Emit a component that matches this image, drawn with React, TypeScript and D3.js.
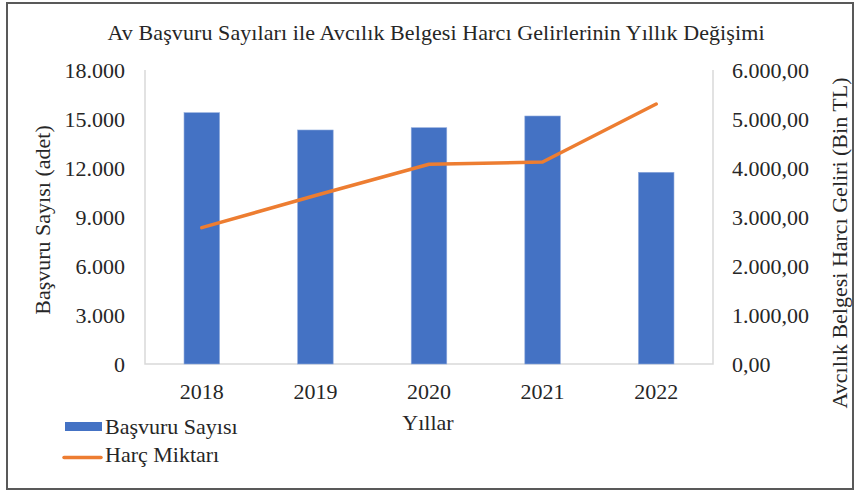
import * as d3 from "d3";
import React, { useEffect, useRef } from "react";

const years = ["2018", "2019", "2020", "2021", "2022"];
const basvuru = [15386, 14327, 14467, 15184, 11737];
const harc = [2782, 3439, 4076, 4122, 5306];
const leftTicks = [0, 3000, 6000, 9000, 12000, 15000, 18000];
const rightTicks = [0, 1000, 2000, 3000, 4000, 5000, 6000];

const W = 856;
const H = 492;
const FONT = "Tinos, 'Times New Roman', 'Liberation Serif', serif";
const FS = 22;

const trLocale = d3.formatLocale({
  decimal: ",",
  thousands: ".",
  grouping: [3],
  currency: ["", " TL"],
});
const fmtLeft = trLocale.format(",.0f");
const fmtRight = trLocale.format(",.2f");

const App = () => {
  const ref = useRef<SVGSVGElement>(null);

  useEffect(() => {
    const m = { top: 70, right: 713, bottom: 364, left: 145 };

    const x = d3
      .scaleBand()
      .domain(years)
      .range([m.left, m.right])
      .paddingInner(0.687)
      .paddingOuter(0.3435);

    const yL = d3.scaleLinear().domain([0, 18000]).range([m.bottom, m.top]);
    const yR = d3.scaleLinear().domain([0, 6000]).range([m.bottom, m.top]);

    const svg = d3.select(ref.current);
    svg.selectAll("*").remove();

    svg.append("rect").attr("width", W).attr("height", H).attr("fill", "#fff");
    svg
      .append("rect")
      .attr("x", 7)
      .attr("y", 3)
      .attr("width", 846)
      .attr("height", 486)
      .attr("fill", "none")
      .attr("stroke", "#595959")
      .attr("stroke-width", 2);

    // plot frame (left, bottom, right)
    svg
      .append("path")
      .attr("d", `M${m.left},${m.top}V${m.bottom}H${m.right}V${m.top}`)
      .attr("fill", "none")
      .attr("stroke", "#d9d9d9")
      .attr("stroke-width", 1.5);

    svg
      .append("g")
      .attr("fill", "#4472c4")
      .selectAll("rect")
      .data(basvuru)
      .join("rect")
      .attr("x", (_, i) => x(years[i])!)
      .attr("y", (d) => yL(d))
      .attr("width", x.bandwidth())
      .attr("height", (d) => yL(0) - yL(d))
      .attr("stroke", "#8faadc")
      .attr("stroke-width", 0.6);

    const line = d3
      .line<number>()
      .x((_, i) => x(years[i])! + x.bandwidth() / 2)
      .y((d) => yR(d));

    svg
      .append("path")
      .datum(harc)
      .attr("d", line)
      .attr("fill", "none")
      .attr("stroke", "#ed7d31")
      .attr("stroke-width", 3.5)
      .attr("stroke-linecap", "round")
      .attr("stroke-linejoin", "round");

    const label = (
      g: d3.Selection<any, any, any, any>,
      xx: number,
      yy: number,
      s: string,
      anchor = "start"
    ) =>
      g
        .append("text")
        .attr("x", xx)
        .attr("y", yy)
        .attr("text-anchor", anchor)
        .style("font-family", FONT)
        .style("font-size", FS + "px")
        .attr("fill", "#262626")
        .text(s);

    label(
      svg,
      436,
      40,
      "Av Başvuru Sayıları ile Avcılık  Belgesi Harcı Gelirlerinin Yıllık  Değişimi",
      "middle"
    ).attr("textLength", 657);

    svg
      .append("g")
      .selectAll("text")
      .data(leftTicks)
      .join("text")
      .attr("x", 125)
      .attr("y", (d) => yL(d))
      .attr("dy", "0.35em")
      .attr("text-anchor", "end")
      .style("font-family", FONT)
      .style("font-size", FS + "px")
      .attr("fill", "#262626")
      .text((d) => fmtLeft(d));

    svg
      .append("g")
      .selectAll("text")
      .data(rightTicks)
      .join("text")
      .attr("x", 732)
      .attr("y", (d) => yR(d))
      .attr("dy", "0.35em")
      .style("font-family", FONT)
      .style("font-size", FS + "px")
      .attr("fill", "#262626")
      .text((d) => fmtRight(d));

    svg
      .append("g")
      .selectAll("text")
      .data(years)
      .join("text")
      .attr("x", (d) => x(d)! + x.bandwidth() / 2)
      .attr("y", 399)
      .attr("text-anchor", "middle")
      .style("font-family", FONT)
      .style("font-size", FS + "px")
      .attr("fill", "#262626")
      .text((d) => d);

    label(svg, 428, 430, "Yıllar", "middle");

    label(svg, 0, 0, "Başvuru Sayısı (adet)", "middle").attr(
      "transform",
      "translate(50,220) rotate(-90)"
    );

    label(svg, 0, 0, "Avcılık Belgesi Harcı Geliri (Bin TL)", "middle").attr(
      "transform",
      "translate(847,243) rotate(-90)"
    );

    // legend
    svg
      .append("rect")
      .attr("x", 65)
      .attr("y", 422)
      .attr("width", 37)
      .attr("height", 9)
      .attr("fill", "#4472c4");
    label(svg, 105, 434, "Başvuru Sayısı");
    svg
      .append("line")
      .attr("x1", 64)
      .attr("x2", 101)
      .attr("y1", 457.5)
      .attr("y2", 457.5)
      .attr("stroke", "#ed7d31")
      .attr("stroke-width", 3.5)
      .attr("stroke-linecap", "round");
    label(svg, 105, 462, "Harç Miktarı");
  }, []);

  return (
    <svg
      ref={ref}
      width={W}
      height={H}
      style={{ position: "absolute", left: 0, top: 0 }}
    />
  );
};

export default App;
